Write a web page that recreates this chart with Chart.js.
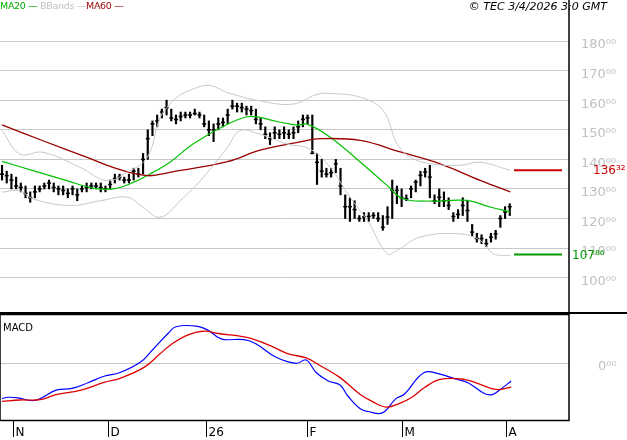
<!DOCTYPE html>
<html>
<head>
<meta charset="utf-8">
<script src="https://cdn.jsdelivr.net/npm/chart.js@4.4.1/dist/chart.umd.min.js"></script>
<style>
  body { margin: 0; background: #fff; font-family: "DejaVu Sans", sans-serif; }
  #wrap { position: relative; width: 627px; height: 440px; }
  #priceChart { position: absolute; left: 0; top: 0; }
  #macdChart { position: absolute; left: 0; top: 314px; }
  .lbl { position: absolute; font-size: 10px; white-space: nowrap; }
</style>
</head>
<body>
<div id="wrap">
  <canvas id="priceChart" width="627" height="314"></canvas>
  <canvas id="macdChart" width="627" height="126"></canvas>
  <div class="lbl" style="left:0px;top:0px;color:#00b000;font-size:9.5px;letter-spacing:-0.3px">MA20 &#8212;</div>
  <div class="lbl" style="left:40px;top:0px;color:#c0c0c0;font-size:9.5px;letter-spacing:-0.3px">BBands &#8212;</div>
  <div class="lbl" style="left:86px;top:0px;color:#990000;font-size:9.5px;letter-spacing:-0.3px">MA60 &#8212;</div>
  <div class="lbl" style="right:20px;top:0px;color:#000;font-style:italic;font-size:11px">&copy; TEC 3/4/2026 3:0 GMT</div>
  <div class="lbl" style="left:3px;top:322px;color:#000">MACD</div>
</div>
<script>
// daily bars, index 0 = first bar (end of Oct)
const closes = [
  135,134.5,133,131,130.5,128.5,127,129,130,131,132,130.5,130,129.5,128.5,130,128,130,130.5,131,131,130.5,130,131.5,133.5,134,133,133,136,135,140,147,152,
  153,156,157.5,154,153.5,154.5,155,155,155.5,155,152,150,150,152,152.5,155,158,158,157.5,157,156.5,153.5,152,148.5,147,149,148.5,149,148.5,149,151,153.5,154,142,139,136,135,135.5,
  138.5,131,124,124,123,120,120.5,120.7,121,120,117,120.5,129.5,129.5,127,126.7,130,132.3,134.6,135.7,134,126,127.2,126,124.4,120.7,121.4,124.4,122.7,115.4,113.2,113.2,111.5,113.7,114.8,120,122.2,124
];
const highs = [
  138,136,135,134,132,131,129,131,131,132,133,132,131,131,130,131,130,131,132,132,132,132,131,133,135,135,134,135,137,137,142,150,153,
  155,157,160,157,155,156,156,156,157,156,155,153,152,154,154,157,160,159,159,158,158,157,154,151,149,151,150,151,150,151,153,155,155,155,142,140,137,137,
  140,137,128,127,126,121,122,122,122,122,121,124,133,131,130,128,131,133,136,137,138,128,130,129,127,122,123,127,126,118,115,114.5,113,115,116,121,124,125
];
const lows = [
  133,132,130,130,129,127,125.5,127,129,130,130,129,128,128,127,128,126,129,129,130,130,129,129,130,132,133,132,132,133,134,135,140,148,
  151,154,155,153,152,153,154,154,155,154,151,148,146,150,151,152,157,156,156,155,155,152,150,147,145,147,147,147,147,147,149,151,152,142,131.5,134,134,134,
  135.5,128,120,119,120,119,119,119,120,119,116,118,120,125,124,126,127,129,131,134,127,125,124,124,123,119,120,121,119,114,112,111.5,110.5,112,113,117,120,121
];

// indicators: [bar index, value]
const ma20 = [[0,139.3],[6.6,136.2],[13.8,132.8],[19.4,130.3],[23.6,130],[27.9,132.2],[32.1,135.6],[35.7,139],[40.6,145.2],[47.9,151.9],[52.1,154.4],[54.3,154.4],[58.5,152.8],[62.8,151.6],[64.9,151.9],[69.8,147.5],[76.2,139.1],[81.9,131.2],[85.3,126.7],[91.1,125.9],[98.9,126.1],[103.8,123.9],[108.1,122.2]];
const ma60 = [[0,151.7],[8.7,146.3],[18.1,140.7],[23.6,137.3],[30.9,134.5],[35.7,135.6],[47.9,139.2],[54.9,143.1],[63.4,145.9],[67.7,147],[76.2,146.4],[84.7,142.5],[93.2,138.5],[101.7,132.9],[108.1,129]];
const bbUpper = [[0,149.7],[3.8,141.8],[8.7,142.4],[16.6,137.3],[22.3,132.8],[26.6,135.6],[30.9,140.7],[33.6,154],[35.7,158.7],[37.2,161],[39.4,163],[44,165],[47.9,162.6],[54.9,159.8],[61.9,158.7],[67,162],[69.8,162.3],[76.2,161],[81.1,156.5],[84,145.3],[86.8,140.8],[91.1,138.5],[97.4,138],[101.7,139],[108.1,136.3]];
const bbLower = [[0,128.9],[3.8,129.4],[6.6,126.6],[14.5,124.4],[20.9,126],[26.6,127.2],[30,123.8],[33.6,120.4],[37.9,126],[42.8,133.9],[47.9,144],[50.6,149.7],[54.9,148.5],[60.6,145.2],[65.5,143.5],[69.8,137.3],[74,127.2],[77.7,119.4],[81.9,108.1],[84,109.2],[88.9,113.7],[97.4,114.8],[101.7,112.6],[104.5,108.1],[108.1,107.5]];

const macdLine = [[0,-10.5],[1.3,-10.1],[3.4,-10.3],[6.4,-11.1],[8.1,-10.5],[11.5,-8],[14.9,-7.5],[18.3,-5.8],[21.7,-3.9],[25.1,-2.8],[29.4,0.2],[31.9,3.7],[35.3,8.7],[37,10.7],[41.3,10.9],[43.8,9.7],[46,7.5],[47.2,6.9],[51.5,6.9],[54,5.7],[58.3,1.7],[62.6,-0.1],[64.7,0.9],[66.8,-2.8],[69.4,-5.3],[71.9,-6.5],[73.6,-9.8],[76.2,-13.5],[77.9,-14.3],[80.9,-14.7],[83.8,-10.5],[85.5,-9.3],[89.8,-2.8],[93.2,-3.3],[96.6,-4.8],[99.1,-5.8],[102.6,-9],[104.3,-9.3],[106,-7.8],[108.3,-5.3]];
const signalLine = [[0,-11.3],[3.8,-10.9],[8.1,-10.8],[11.5,-9.3],[16.6,-8.1],[21.7,-5.7],[25.1,-4.5],[30.2,-1.3],[33.6,2.7],[36.2,5.7],[39.6,8.3],[43,9.4],[46,8.7],[52.3,7.5],[57.4,4.9],[60.9,2.7],[64.7,1.5],[67.7,-0.8],[71.9,-4.3],[76.2,-9.3],[78.7,-11.3],[81.7,-13],[84.7,-11.8],[87.2,-10.1],[89.8,-7.3],[93.2,-4.8],[98.3,-4.8],[101.7,-6.3],[105.1,-7.8],[108.3,-7.1]];

const monthTicks = [2.3, 22.6, 43.4, 64.9, 85.1, 107.2];
const monthLabels = ['N', 'D', '26', 'F', 'M', 'A'];
const priceTicks = [100, 110, 120, 130, 140, 150, 160, 170, 180];
const lastHigh = 136.32;
const lastLow = 107.86;

const sup = { '0':'⁰','1':'¹','2':'²','3':'³','4':'⁴','5':'⁵','6':'⁶','7':'⁷','8':'⁸','9':'⁹' };
function fmt(v) {
  const s = v.toFixed(2).split('.');
  return s[0] + s[1].split('').map(c => sup[c]).join('');
}
const pts = arr => arr.map(p => ({ x: p[0], y: p[1] }));

const xMin = -0.43, xMax = 120.6;
const xScale = { type: 'linear', min: xMin, max: xMax, display: false, offset: false };
function rightAxis(scale) { scale.width = 58; }

// right-hand tick labels, drawn by hand so they don't pad the plot area
function drawLabels(chart, values, x0) {
  const c = chart.ctx, y = chart.scales.y;
  c.save();
  c.fillStyle = '#c0c0c0'; c.font = '13px "DejaVu Sans"'; c.textBaseline = 'middle';
  values.forEach(v => c.fillText(fmt(v), x0, y.getPixelForValue(v) + 4));
  c.restore();
}

const pricePlugin = {
  id: 'pricePlugin',
  afterDatasetsDraw(chart) {
    const c = chart.ctx, a = chart.chartArea, y = chart.scales.y;
    drawLabels(chart, priceTicks, 581);
    c.save();
    c.strokeStyle = '#000';
    c.lineWidth = 2;
    c.beginPath(); c.moveTo(0, a.bottom - 1); c.lineTo(627, a.bottom - 1); c.stroke();
    c.lineWidth = 1.5;
    c.beginPath(); c.moveTo(a.right, 0); c.lineTo(a.right, a.bottom); c.stroke();
    // last high / low markers
    [[lastHigh, '#cc0000', 593], [lastLow, '#009900', 572]].forEach(m => {
      const py = y.getPixelForValue(m[0]);
      c.strokeStyle = m[1]; c.lineWidth = 2;
      c.beginPath(); c.moveTo(514, py); c.lineTo(562, py); c.stroke();
      c.fillStyle = m[1]; c.font = '12px "DejaVu Sans"';
      c.textBaseline = 'middle';
      c.fillText(fmt(m[0]), m[2], py + 1);
    });
    c.restore();
  }
};

new Chart(document.getElementById('priceChart'), {
  type: 'bar',
  data: {
    datasets: [
      { type: 'line', data: pts(bbUpper), borderColor: '#c8c8c8', borderWidth: 1, pointRadius: 0, tension: 0.4 },
      { type: 'line', data: pts(bbLower), borderColor: '#c8c8c8', borderWidth: 1, pointRadius: 0, tension: 0.4 },
      { type: 'line', data: pts(ma60), borderColor: '#990000', borderWidth: 1.3, pointRadius: 0, tension: 0.4 },
      { type: 'line', data: pts(ma20), borderColor: '#00c000', borderWidth: 1.2, pointRadius: 0, tension: 0.4 },
      { type: 'bar', data: closes.map((v, i) => ({ x: i, y: [lows[i], highs[i]] })), backgroundColor: '#000', barThickness: 1.5 },
      { type: 'scatter', data: closes.map((v, i) => ({ x: i, y: v })), pointStyle: 'line', pointRadius: 2, borderColor: '#000', borderWidth: 1.5 }
    ]
  },
  options: {
    responsive: false, animation: false, maintainAspectRatio: false,
    layout: { padding: 0, autoPadding: false },
    plugins: { legend: { display: false }, tooltip: { enabled: false } },
    scales: {
      x: xScale,
      y: {
        position: 'right', min: 87.7, max: 193.9,
        afterFit: rightAxis,
        afterBuildTicks: s => { s.ticks = priceTicks.map(v => ({ value: v })); },
        border: { display: false },
        grid: { color: '#c8c8c8', drawTicks: false },
        ticks: { display: false }
      }
    }
  },
  plugins: [pricePlugin]
});

const macdPlugin = {
  id: 'macdPlugin',
  afterDraw(chart) {
    const c = chart.ctx, a = chart.chartArea, x = chart.scales.x;
    drawLabels(chart, [0], 598);
    c.save();
    c.strokeStyle = '#000'; c.lineWidth = 1.5;
    c.strokeRect(0, 0.5, a.right, a.bottom);
    c.fillStyle = '#000'; c.font = '12px "DejaVu Sans"'; c.textBaseline = 'top';
    monthTicks.forEach((t, i) => {
      const px = Math.round(x.getPixelForValue(t)) + 0.5;
      c.lineWidth = 1;
      c.beginPath(); c.moveTo(px, a.bottom); c.lineTo(px, a.bottom + 17); c.stroke();
      c.fillText(monthLabels[i], px + 2, a.bottom + 7);
    });
    c.restore();
  }
};

new Chart(document.getElementById('macdChart'), {
  type: 'line',
  data: {
    datasets: [
      { data: pts(signalLine), borderColor: '#dd0000', borderWidth: 1.3, pointRadius: 0, tension: 0.4 },
      { data: pts(macdLine), borderColor: '#0000ff', borderWidth: 1.2, pointRadius: 0, tension: 0.4 }
    ]
  },
  options: {
    responsive: false, animation: false, maintainAspectRatio: false,
    layout: { padding: { top: 0, bottom: 20, left: 0, right: 0 }, autoPadding: false },
    plugins: { legend: { display: false }, tooltip: { enabled: false } },
    scales: {
      x: xScale,
      y: {
        position: 'right', min: -16.8, max: 14.45,
        afterFit: rightAxis,
        afterBuildTicks: s => { s.ticks = [{ value: 0 }]; },
        border: { display: false },
        grid: { color: '#c8c8c8', drawTicks: false },
        ticks: { display: false }
      }
    }
  },
  plugins: [macdPlugin]
});
</script>
</body>
</html>
